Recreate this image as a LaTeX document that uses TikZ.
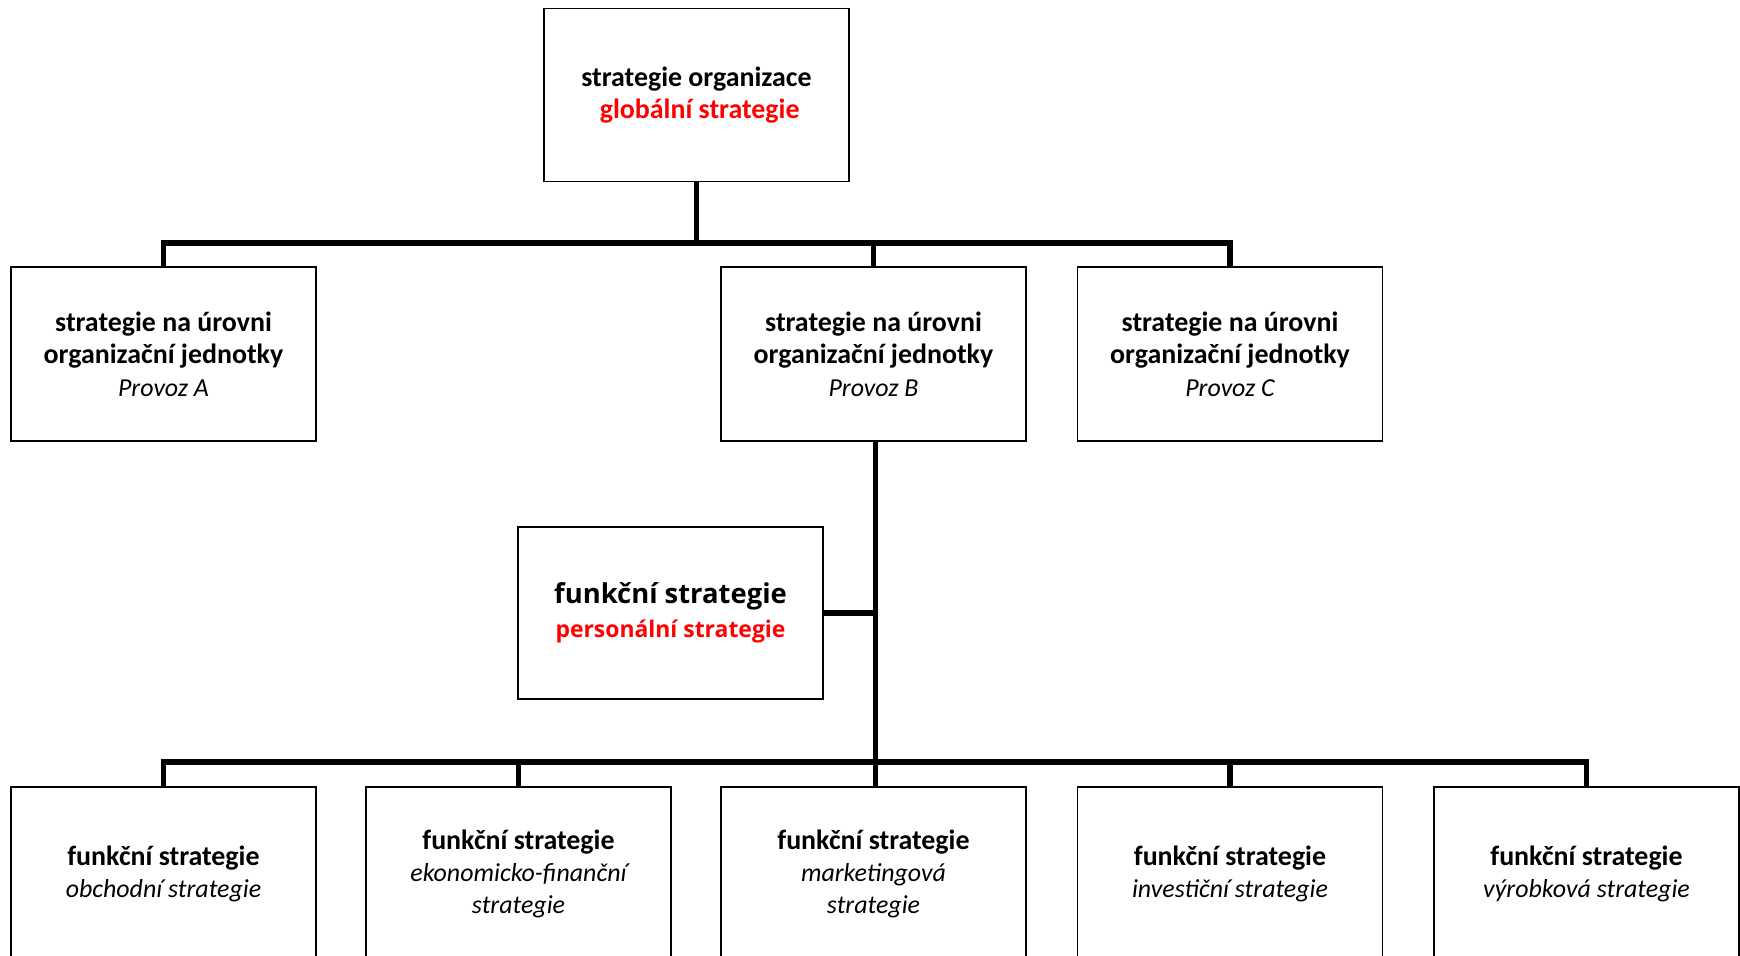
\documentclass[tikz,border=0pt]{standalone}
\usepackage{fontspec}
\setmainfont{Carlito}
\newfontfamily\persfont{Open Sans}
\definecolor{hdred}{RGB}{255,0,0}
\newcommand{\itl}[1]{{\fontsize{26}{32.5}\selectfont\itshape #1}}
\begin{document}
\begin{tikzpicture}[x=1bp,y=-1bp,
  box/.style={draw=black, line width=1.8bp, fill=white, minimum width=305bp, minimum height=174bp, inner sep=0pt, align=center, font=\fontsize{28}{32.5}\selectfont},
  bus/.style={line width=5.5bp, black},
]
\useasboundingbox (0,0) rectangle (1740,955);
\clip (0,0) rectangle (1740,955);
% top
\node[box, minimum width=305bp, minimum height=173bp] (top) at (696.5,95) {\textbf{strategie organizace}\\ \textcolor{hdred}{\textbf{\ globální strategie}}};
% row 2
\node[box] (A) at (163.5,354) {\textbf{strategie na úrovni}\\ \textbf{organizační jednotky}\\ \itl{Provoz A}};
\node[box] (B) at (873.5,354) {\textbf{strategie na úrovni}\\ \textbf{organizační jednotky}\\ \itl{Provoz B}};
\node[box] (C) at (1230,354) {\textbf{strategie na úrovni}\\ \textbf{organizační jednotky}\\ \itl{Provoz C}};
% personal
\node[box, minimum height=172bp] (P) at (670.5,613) {{\persfont\bfseries\fontsize{27.5}{36}\selectfont funkční strategie}\\[2bp] {\persfont\bfseries\fontsize{23}{28}\selectfont\color{hdred} personální strategie}};
% bottom row
\node[box] (b1) at (163.5,874) {\textbf{funkční strategie}\\ \itl{obchodní strategie}};
\node[box] (b2) at (518.5,874) {\textbf{funkční strategie}\\ \itl{ekonomicko-finanční}\\ \itl{strategie}};
\node[box] (b3) at (873.5,874) {\textbf{funkční strategie}\\ \itl{marketingová}\\ \itl{strategie}};
\node[box] (b4) at (1230,874) {\textbf{funkční strategie}\\ \itl{investiční strategie}};
\node[box] (b5) at (1586.5,874) {\textbf{funkční strategie}\\ \itl{výrobková strategie}};
% connectors
\coordinate (j1) at (696.5,243);
\coordinate (j2) at (875.5,762);
\draw[bus] (top.south) -- (j1);
\draw[bus] (A.north) |- (j1);
\draw[bus] (B.north) |- (j1);
\draw[bus] (C.north) |- (j1);
\draw[bus] (B.south -| j2) -- (j2);
\draw[bus] (P.east) -- (P.east -| j2);
\draw[bus] (b1.north) |- (j2);
\draw[bus] (b2.north) |- (j2);
\draw[bus] (b3.north -| j2) -- (j2);
\draw[bus] (b4.north) |- (j2);
\draw[bus] (b5.north) |- (j2);
\end{tikzpicture}
\end{document}
